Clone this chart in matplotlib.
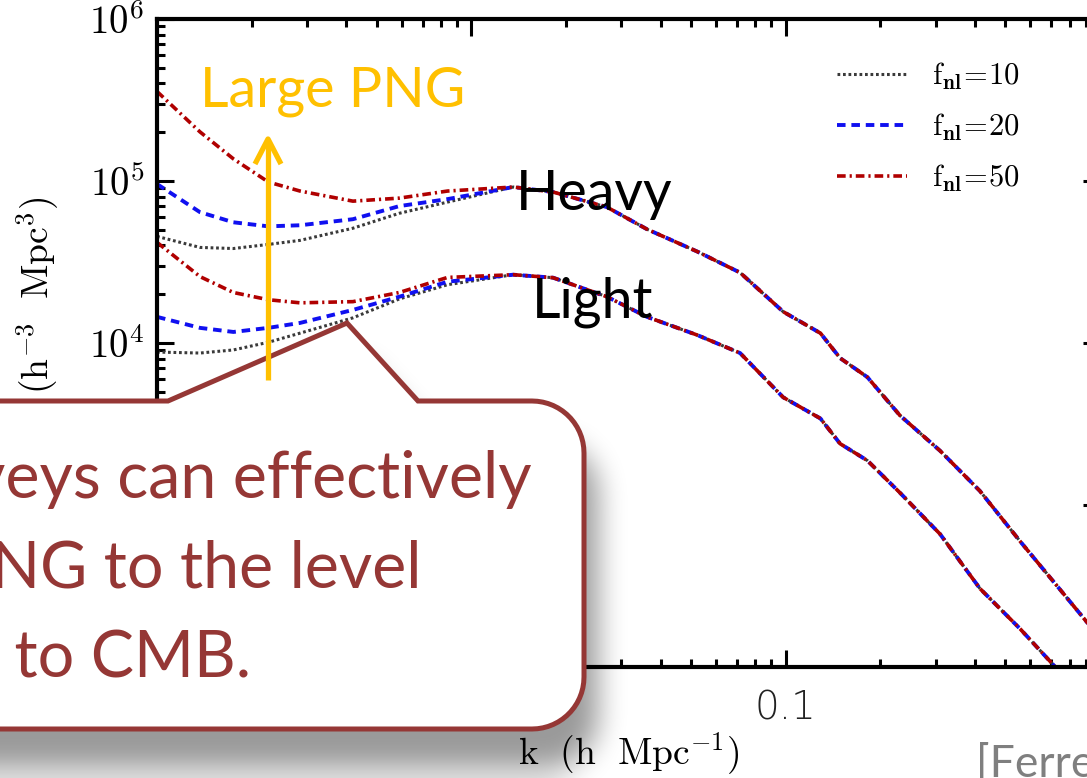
import numpy as np
import matplotlib
matplotlib.use('Agg')
import matplotlib.pyplot as plt
from matplotlib.path import Path
from matplotlib.patches import PathPatch
from matplotlib.ticker import FixedLocator, FixedFormatter, LogLocator, NullFormatter

plt.rcParams['mathtext.fontset'] = 'cm'

# k in h/Mpc where the three f_nl runs still differ
k_low = [0.001, 0.00137, 0.00175, 0.00226, 0.00285, 0.0042, 0.0059, 0.0084]
heavy_f10_low = [45500, 38900, 38300, 40600, 43000, 51100, 63200, 74100]
heavy_f20_low = [95800, 64200, 55600, 52500, 53300, 58100, 70000, 77300]
heavy_f50_low = [357000, 201000, 137000, 98600, 86700, 75100, 78400, 86700]
light_f10_low = [8790, 8670, 9060, 10100, 11500, 14300, 18700, 22900]
light_f20_low = [14500, 12400, 11700, 12400, 13300, 16000, 19300, 23900]
light_f50_low = [41800, 25700, 20500, 18500, 17700, 18000, 20500, 25400]

# above k ~ 0.013 the scale dependent bias is gone and the runs coincide
k_high = [0.0136, 0.0182, 0.027, 0.0362, 0.0523, 0.0716, 0.0982, 0.129,
          0.149, 0.182, 0.231, 0.31, 0.415, 0.557, 0.746, 1.0]
heavy_high = [91800, 85500, 69000, 50400, 36700, 27200, 15600, 11500,
              8070, 6150, 3570, 2160, 1220, 597, 301, 151]
light_high = [26400, 25300, 19300, 14500, 11200, 8670, 4620, 3420,
              2390, 1880, 1190, 661, 305, 172, 93, 50]

fnl_labels = [r'$\mathrm{f_{\mathbf{nl}}\!=\!10}$',
              r'$\mathrm{f_{\mathbf{nl}}\!=\!20}$',
              r'$\mathrm{f_{\mathbf{nl}}\!=\!50}$']
x_ticks = [0.001, 0.01, 0.1, 1]
x_ticklabels = ['0.001', '0.01', '0.1', '1']
y_ticks = [1e2, 1e3, 1e4, 1e5, 1e6]
y_ticklabels = [r'$10^{2}$', r'$10^{3}$', r'$10^{4}$', r'$10^{5}$', r'$10^{6}$']

W, H = 1087, 778
fig = plt.figure(figsize=(W / 100, H / 100), dpi=100)
ax = fig.add_axes([157 / W, 1 - 667 / H, 943 / W, 648 / H])

k_all = k_low + k_high
styles = [dict(color='#3a3a3a', lw=2.2, dashes=(0.9, 0.9)),
          dict(color='#1010f0', lw=2.8, dashes=(2.2, 1.5)),
          dict(color='#b00000', lw=2.6, dashes=(2.4, 1.1, 0.6, 1.1))]
heavy = [heavy_f10_low, heavy_f20_low, heavy_f50_low]
light = [light_f10_low, light_f20_low, light_f50_low]
for i in range(3):
    ax.plot(k_all, heavy[i] + heavy_high, label=fnl_labels[i], **styles[i])
    ax.plot(k_all, light[i] + light_high, **styles[i])

ax.set_xscale('log')
ax.set_yscale('log')
ax.set_xlim(1e-3, 1)
ax.set_ylim(1e2, 1e6)

ax.xaxis.set_major_locator(FixedLocator(x_ticks))
ax.xaxis.set_major_formatter(FixedFormatter(x_ticklabels))
ax.yaxis.set_major_locator(FixedLocator(y_ticks))
ax.yaxis.set_major_formatter(FixedFormatter(y_ticklabels))
for axis in (ax.xaxis, ax.yaxis):
    axis.set_minor_locator(LogLocator(base=10, subs=np.arange(2, 10)))
    axis.set_minor_formatter(NullFormatter())

ax.tick_params(which='both', direction='in', top=True, right=True, width=2.2)
ax.tick_params(which='major', length=12)
ax.tick_params(which='minor', length=6)
ax.tick_params(axis='y', labelsize=28, pad=9)
ax.tick_params(axis='x', pad=16)
for lab in ax.get_xticklabels():
    lab.set_fontfamily('DejaVu Sans')
    lab.set_fontweight('light')
    lab.set_fontsize(28)
    lab.set_color('#222222')
for sp in ax.spines.values():
    sp.set_linewidth(3)

ax.set_xlabel(r'$\mathrm{k\ \ (h\ \ Mpc^{-1})}$', fontsize=27, labelpad=2)
ax.set_ylabel(r'$\mathrm{P(k)\ \ (h^{-3}\ \ Mpc^{3})}$', fontsize=27,
              ha='right', va='center', rotation_mode='anchor')
ax.yaxis.set_label_coords((38 - 157) / 943, (667 - 197) / 648)

ax.legend(loc='upper left', bbox_to_anchor=(837 / W, 1 - 61 / H),
          bbox_transform=fig.transFigure, frameon=False, fontsize=22,
          handlelength=2.3, handletextpad=0.8, labelspacing=0.64,
          borderpad=0, borderaxespad=0)

# slide overlay in pixel units: speech bubble, its shadow, arrow and labels
ov = fig.add_axes([0, 0, 1, 1], zorder=5)
ov.set_facecolor('none')


def bubble(dx=0, dy=0):
    left, right, top, bottom, r = -400, 584, 401, 729, 52
    pts = [(left, top), (168, top), (347, 323), (418, top)]
    for a in np.linspace(-np.pi / 2, 0, 16):
        pts.append((right - r + r * np.cos(a), top + r + r * np.sin(a)))
    for a in np.linspace(0, np.pi / 2, 16):
        pts.append((right - r + r * np.cos(a), bottom - r + r * np.sin(a)))
    pts.append((left, bottom))
    pts.append((left, top))
    pts = np.array(pts) + [dx, dy]
    codes = [Path.MOVETO] + [Path.LINETO] * (len(pts) - 2) + [Path.CLOSEPOLY]
    return Path(pts, codes)


def box_blur(a, r, axis):
    pad = [(0, 0), (0, 0)]
    pad[axis] = (r + 1, r)
    c = np.cumsum(np.pad(a, pad, mode='edge'), axis=axis)
    n = 2 * r + 1
    if axis == 0:
        return (c[n:] - c[:-n]) / n
    return (c[:, n:] - c[:, :-n]) / n


gx, gy = np.meshgrid(np.arange(W) + 0.5, np.arange(H) + 0.5)
mask = bubble(14, 40).contains_points(np.c_[gx.ravel(), gy.ravel()])
mask = mask.reshape(H, W).astype(float)
for _ in range(3):
    mask = box_blur(mask, 13, 0)
    mask = box_blur(mask, 13, 1)
shadow = np.zeros((H, W, 4))
shadow[..., 3] = 0.4 * mask
ov.imshow(shadow, extent=(0, W, H, 0), aspect='auto', zorder=1,
          interpolation='bilinear')

ov.add_patch(PathPatch(bubble(), facecolor='white', edgecolor='#953735',
                       lw=3.6, joinstyle='miter', zorder=2))

red = '#953735'
bubble_font = dict(family='Lato', fontsize=46.5, color=red, ha='right',
                   va='baseline', zorder=3)
ov.text(532, 498, 'Galaxy surveys can effectively', **bubble_font)
ov.text(421, 587, 'constrain PNG to the level', **bubble_font)
ov.text(251, 677, 'comparable to CMB.', **bubble_font)

# arrow towards larger f_nl
yellow = '#FFC000'
ov.plot([268, 268], [380, 142], color=yellow, lw=3.8, solid_capstyle='butt',
        zorder=4)
ov.plot([255, 268, 281], [164, 139, 164], color=yellow, lw=3.8,
        solid_capstyle='butt', zorder=4)
ov.text(200, 106, 'Large PNG', family='Lato', fontsize=40, color=yellow,
        va='baseline', zorder=4)

ov.text(516, 210, 'Heavy', family='Lato', fontsize=40, color='black',
        va='baseline', zorder=4)
ov.text(532, 317, 'Light', family='Lato', fontsize=40, color='black',
        va='baseline', zorder=4)
ov.text(976, 777, '[Ferreira et al.]', family='Lato', fontsize=32,
        color='#7f7f7f', va='baseline', zorder=4)

ov.set_xlim(0, W)
ov.set_ylim(H, 0)
ov.axis('off')

fig.savefig('out.png', dpi=100, facecolor='white')
